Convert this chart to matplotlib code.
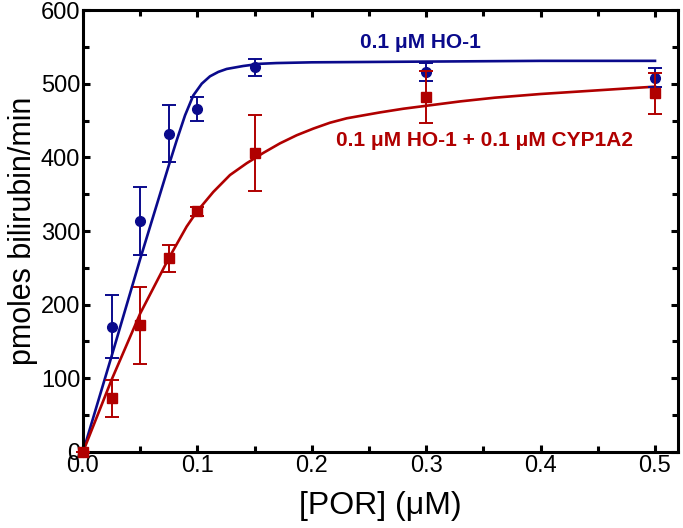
import matplotlib
matplotlib.use('Agg')
import matplotlib.pyplot as plt
import numpy as np

plt.rcParams['font.family'] = ['Liberation Sans Narrow', 'Liberation Sans', 'DejaVu Sans']

# measured points
por = [0.0, 0.025, 0.05, 0.075, 0.1, 0.15, 0.3, 0.5]
ho1 = [0, 170, 314, 432, 466, 522, 516, 508]
ho1_err = [0, 43, 46, 39, 16, 12, 12, 13]
ho1_cyp = [0, 73, 172, 263, 327, 406, 482, 487]
ho1_cyp_err = [0, 25, 52, 18, 6, 52, 35, 28]

# fitted curves
fit_x_ho1 = [0.0, 0.025, 0.05, 0.0746, 0.0819, 0.0892, 0.0964, 0.1038, 0.111,
             0.1183, 0.1256, 0.140, 0.1547, 0.169, 0.2, 0.3, 0.4, 0.5]
fit_y_ho1 = [0, 130, 262, 387, 423, 457, 484, 500, 510,
             516, 520, 524, 527, 528, 529, 530, 531, 531]
fit_x_cyp = [0.0, 0.025, 0.05, 0.075, 0.0906, 0.0994, 0.1139, 0.1285, 0.1431,
             0.1576, 0.1722, 0.1868, 0.2013, 0.2159, 0.2305, 0.245, 0.2596,
             0.28, 0.30, 0.33, 0.36, 0.40, 0.45, 0.5]
fit_y_cyp = [0, 98, 188, 263, 306, 326, 353, 376, 392,
             406, 419, 430, 439, 447, 453, 457, 461,
             466, 470, 476, 481, 486, 491, 496]

blue = '#0a0a8c'
red = '#b00000'

fig = plt.figure(figsize=(6.83, 5.28), dpi=100)
ax = fig.add_axes([0.1215, 0.144, 0.871, 0.837])

ax.plot(fit_x_ho1, fit_y_ho1, color=blue, lw=1.9, zorder=2)
ax.plot(fit_x_cyp, fit_y_cyp, color=red, lw=1.9, zorder=2)
ax.errorbar(por, ho1, yerr=ho1_err, fmt='o', color=blue, ms=7, capsize=5,
            elinewidth=1.4, capthick=1.4, zorder=3, clip_on=False)
ax.errorbar(por, ho1_cyp, yerr=ho1_cyp_err, fmt='s', color=red, ms=7, capsize=5,
            elinewidth=1.4, capthick=1.4, zorder=4, clip_on=False)

ax.text(0.2946, 556, '0.1 \u03bcM HO-1', color=blue, fontsize=15, fontweight='bold',
        ha='center', va='center', family=['Liberation Sans', 'DejaVu Sans'])
ax.text(0.351, 423, '0.1 \u03bcM HO-1 + 0.1 \u03bcM CYP1A2', color=red, fontsize=15,
        fontweight='bold', ha='center', va='center', family=['Liberation Sans', 'DejaVu Sans'])

ax.set_xlim(0, 0.52)
ax.set_ylim(0, 600)
ax.set_xticks([0, 0.1, 0.2, 0.3, 0.4, 0.5])
ax.set_xticklabels(['0.0', '0.1', '0.2', '0.3', '0.4', '0.5'])
ax.set_xticks(np.arange(0.05, 0.5, 0.1), minor=True)
ax.set_yticks([0, 100, 200, 300, 400, 500, 600])
ax.set_yticks([50, 150, 250, 350, 450, 550], minor=True)

for s in ax.spines.values():
    s.set_linewidth(2.2)
ax.tick_params(which='both', direction='in', top=True, right=True, width=2.2,
               labelsize=17, pad=2)
ax.tick_params(which='major', length=5)
ax.tick_params(which='minor', length=4)

ax.set_xlabel('[POR] (\u03bcM)', fontsize=23, labelpad=10)
ax.set_ylabel('pmoles bilirubin/min', fontsize=22, labelpad=2)

fig.savefig('out.png', dpi=100)
